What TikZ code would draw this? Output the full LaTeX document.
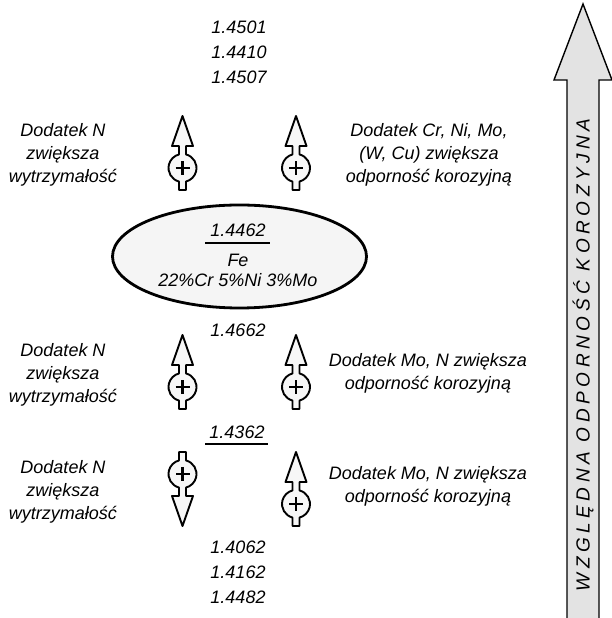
\documentclass[tikz,border=0pt]{standalone}
\usepackage{fontspec}
\setmainfont{Liberation Sans}
\begin{document}
\begin{tikzpicture}[x=1pt,y=1pt,
  txt/.style={font=\fontsize{18}{23}\selectfont\itshape, inner sep=0pt, align=center},
  num/.style={font=\fontsize{18}{25}\selectfont\itshape, inner sep=0pt},
  symline/.style={draw=black, line width=1.9pt, fill=gray!6, line join=round},
  plusline/.style={line width=2.6pt},
  gradeline/.style={line width=1.3pt},
  alloy/.style={draw=black, line width=2.8pt, fill=gray!8},
  bigarrow/.style={draw=black, line width=1.4pt, fill=gray!22, line join=miter},
  axislabel/.style={font=\fontsize{19}{21}\selectfont\itshape\addfontfeature{LetterSpace=24}, inner sep=0pt},
  plussym/.pic={
    \path[symline] (0,52) -- (10.5,22) -- (3.5,22) -- (3.5,13.56)
      arc[start angle=75.52, end angle=-75.52, radius=14pt]
      -- (3.5,-22) -- (-3.5,-22) -- (-3.5,-13.56)
      arc[start angle=-104.48, end angle=-255.52, radius=14pt]
      -- (-3.5,22) -- (-10.5,22) -- cycle;
    \draw[plusline] (-7,0) -- (7,0) (0,-7) -- (0,7);
  }
]
\useasboundingbox (0,0) rectangle (612,618);
\clip (0,0) rectangle (612,618);

% relative corrosion resistance axis
\path[bigarrow] (567,-5) -- (567,538) -- (554,538) -- (583,614)
  -- (612,538) -- (599,538) -- (599,-5) -- cycle;
\node[axislabel, rotate=90] (axis) at (583,263) {WZGLĘDNA ODPORNOŚĆ KOROZYJNA};

% grades above the base alloy
\node[num] (g4501) at (239,591) {1.4501};
\node[num] (g4410) at (239,566) {1.4410};
\node[num] (g4507) at (239,541) {1.4507};

\node[txt] (nTop) at (63,463) {Dodatek N\\zwiększa\\wytrzymałość};
\node[txt] (crTop) at (429,463) {Dodatek Cr, Ni, Mo,\\(W, Cu) zwiększa\\odporność korozyjną};
\pic at (182.5,450) {plussym};
\pic at (296,450) {plussym};

% base alloy
\path[alloy] (239.5,361.5) ellipse[x radius=127, y radius=51.5];
\node[num] (base) at (238,388) {1.4462};
\draw[gradeline] (205,375) -- (270,375);
\node[num] (fe) at (238,358) {Fe};
\node[num] (comp) at (238,338) {22\%Cr 5\%Ni 3\%Mo};

% grades below the base alloy
\node[num] (g4662) at (238,288) {1.4662};
\node[txt] (nMid) at (63,243) {Dodatek N\\zwiększa\\wytrzymałość};
\node[txt] (moMid) at (428,245) {Dodatek Mo, N zwiększa\\odporność korozyjną};
\pic at (182.5,231) {plussym};
\pic at (296,231) {plussym};

\node[num] (g4362) at (237,186) {1.4362};
\draw[gradeline] (205,174) -- (268,174);

\node[txt] (nBot) at (63,126) {Dodatek N\\zwiększa\\wytrzymałość};
\node[txt] (moBot) at (428,132) {Dodatek Mo, N zwiększa\\odporność korozyjną};
\pic[rotate=180] at (182.5,144) {plussym};
\pic at (296,114) {plussym};

\node[num] (g4062) at (238,71) {1.4062};
\node[num] (g4162) at (238,46) {1.4162};
\node[num] (g4482) at (238,21) {1.4482};
\end{tikzpicture}
\end{document}
